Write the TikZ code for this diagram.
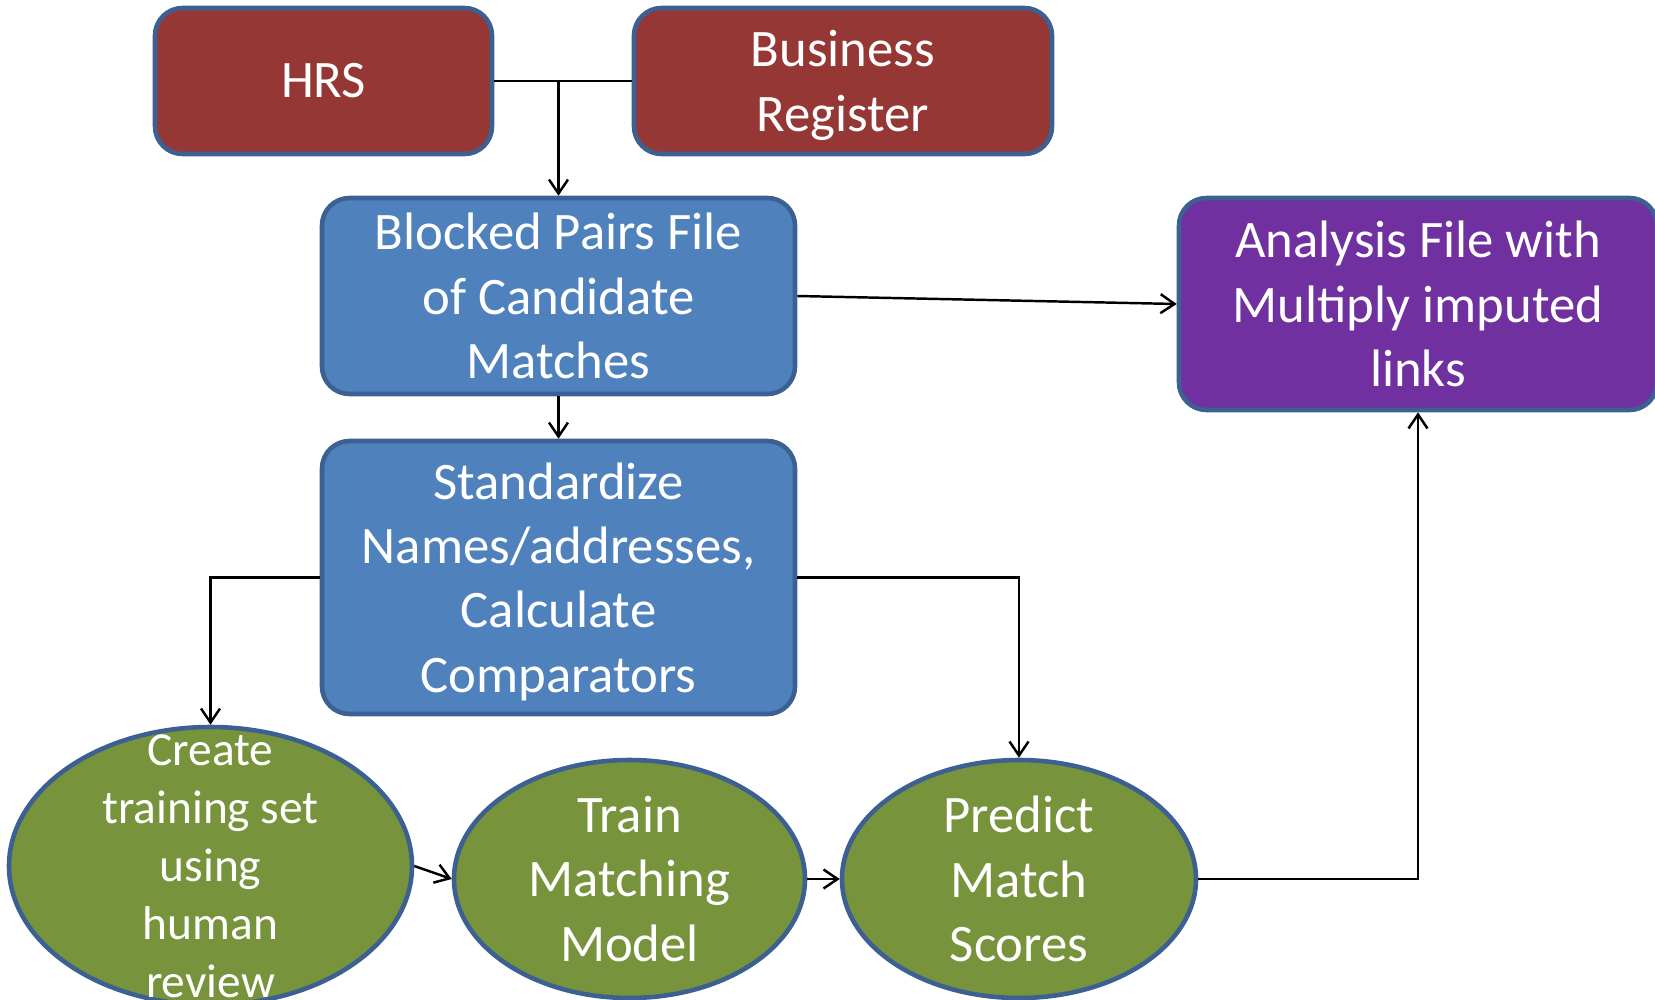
\documentclass[tikz,border=0pt]{standalone}
\usepackage{fontspec}
\setmainfont{Carlito}
\usetikzlibrary{positioning,shapes.geometric,arrows.meta}
\definecolor{cred}{RGB}{149,55,53}
\definecolor{cblue}{RGB}{79,129,189}
\definecolor{cpurple}{RGB}{112,48,160}
\definecolor{cgreen}{RGB}{119,147,60}
\definecolor{cedge}{RGB}{60,96,145}

\begin{document}
\begin{tikzpicture}[
    box/.style={draw=cedge, line width=2.6pt, rounded corners=0.55cm, inner sep=0pt,
                text=white, font=\fontsize{30}{36.6}\selectfont, align=center},
    oval/.style={ellipse, draw=cedge, line width=2.6pt, fill=cgreen, inner sep=0pt},
    ovaltext/.style={text=white, font=\fontsize{30}{36.6}\selectfont, align=center, inner sep=0pt},
    arr/.style={-{Straight Barb[length=0.28cm, width=0.38cm]}, line width=1.4pt},
    link/.style={line width=1.4pt},
  ]
  \useasboundingbox (0,0) rectangle (33.1,-20);

  %% Sources
  \node[box, fill=cred, minimum width=6.74cm, minimum height=2.92cm] (hrs) at (6.47,-1.62) {HRS};
  \node[box, fill=cred, minimum width=8.36cm, minimum height=2.92cm, text depth=0pt] (busreg) at (16.86,-1.62)
    {Business\\Register};

  %% Blue processing boxes
  \node[box, fill=cblue, minimum width=9.46cm, minimum height=3.92cm] (blocked) at (11.17,-5.92)
    {Blocked Pairs File\\of Candidate\\Matches};
  \node[box, fill=cblue, minimum width=9.46cm, minimum height=5.46cm, text depth=0pt] (stand) at (11.17,-11.55)
    {Standardize\\Names/addresses,\\Calculate\\Comparators};

  %% Result
  \node[box, fill=cpurple, minimum width=9.56cm, minimum height=4.24cm] (analysis) at (28.36,-6.08)
    {Analysis File with\\Multiply imputed\\links};

  %% Green model steps
  \node[oval, minimum width=8.06cm, minimum height=5.56cm,
        label={[ovaltext, name=createtxt, font=\fontsize{27}{33}\selectfont]center:{Create\\training set\\using\\human\\review}}]
    (create) at (4.21,-17.32) {};
  \node[oval, minimum width=7.02cm, minimum height=4.76cm,
        label={[ovaltext, name=traintxt]center:{Train\\Matching\\Model}}]
    (train) at (12.59,-17.58) {};
  \node[oval, minimum width=7.08cm, minimum height=4.76cm,
        label={[ovaltext, name=predicttxt]center:{Predict\\Match\\Scores}}]
    (predict) at (20.38,-17.58) {};

  %% Connectors
  \draw[link] (hrs.east) -- (busreg.west);
  \draw[arr] (hrs.east -| blocked.north) -- (blocked.north);
  \draw[arr] (blocked.east) -- (analysis.west);
  \draw[arr] (blocked.south) -- (stand.north);
  \draw[arr] (stand.west) -| (create.north);
  \draw[arr] (stand.east) -| (predict.north);
  \draw[arr] (create.east) -- (train.west);
  \draw[arr] (train.east) -- (predict.west);
  \draw[arr] (predict.east) -| (analysis.south);

\end{tikzpicture}
\end{document}
